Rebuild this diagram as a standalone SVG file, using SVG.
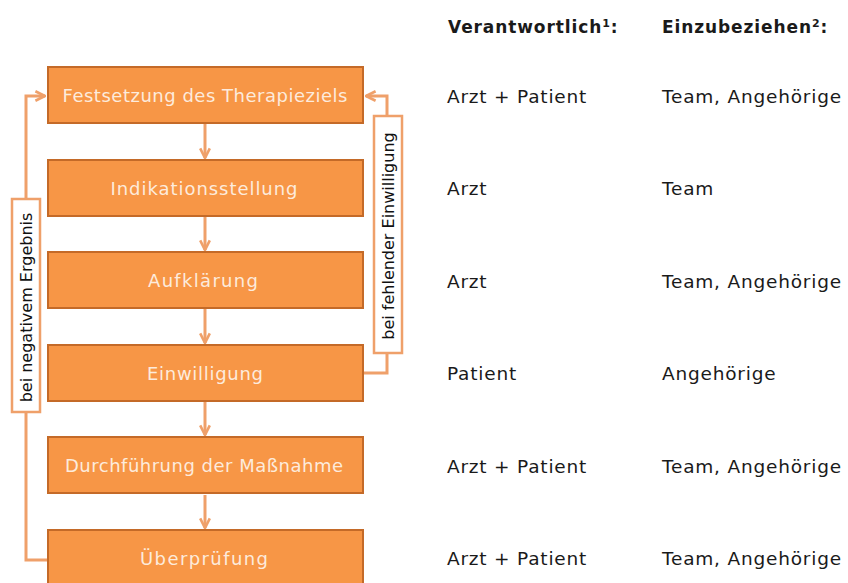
<svg xmlns="http://www.w3.org/2000/svg" width="848" height="583" viewBox="0 0 848 583">
<defs>
<style>
.box{fill:#F79646;stroke:#C46A28;stroke-width:2}
.bt{font-family:"DejaVu Sans",sans-serif;font-size:18px;fill:#FDEBDC;text-anchor:middle}
.con{fill:none;stroke:#EFA06A;stroke-width:3}
.lbl{fill:#FFFFFF;stroke:#EFA06A;stroke-width:2.5}
.lt{font-family:"DejaVu Sans",sans-serif;font-size:16px;fill:#111;text-anchor:middle}
.ct{font-family:"DejaVu Sans",sans-serif;font-size:18.5px;letter-spacing:0.8px;fill:#1a1a1a}
.hd{font-family:"DejaVu Sans",sans-serif;font-size:17px;letter-spacing:0.9px;font-weight:bold;fill:#1a1a1a}
</style>
<marker id="ah" viewBox="0 0 10 10" refX="9" refY="5" markerWidth="4" markerHeight="4" orient="auto" markerUnits="strokeWidth">
<path d="M1,1 L9,5 L1,9" fill="none" stroke="#EFA06A" stroke-width="2.2"/>
</marker>
</defs>
<rect width="848" height="583" fill="#FFFFFF"/>
<g id="connectors">
<path class="con" d="M205,124 V158" marker-end="url(#ah)"/>
<path class="con" d="M205,217 V250" marker-end="url(#ah)"/>
<path class="con" d="M205,309 V343" marker-end="url(#ah)"/>
<path class="con" d="M205,402 V435" marker-end="url(#ah)"/>
<path class="con" d="M205,495 V528" marker-end="url(#ah)"/>
<path class="con" d="M47,560 H26 V96 H45" marker-end="url(#ah)"/>
<path class="con" d="M364,373 H387 V96 H366" marker-end="url(#ah)"/>
</g>
<g id="n1"><rect class="box" x="48" y="67" width="315" height="56"/><text class="bt" x="205" y="102" textLength="285" lengthAdjust="spacing">Festsetzung  des Therapieziels</text></g>
<g id="n2"><rect class="box" x="48" y="160" width="315" height="56"/><text class="bt" x="204" y="195" textLength="187" lengthAdjust="spacing">Indikationsstellung</text></g>
<g id="n3"><rect class="box" x="48" y="252" width="315" height="56"/><text class="bt" x="203" y="287" textLength="110" lengthAdjust="spacing">Aufklärung</text></g>
<g id="n4"><rect class="box" x="48" y="345" width="315" height="56"/><text class="bt" x="205" y="380" textLength="116" lengthAdjust="spacing">Einwilligung</text></g>
<g id="n5"><rect class="box" x="48" y="437" width="315" height="56"/><text class="bt" x="204" y="472" textLength="278" lengthAdjust="spacing">Durchführung  der Maßnahme</text></g>
<g id="n6"><rect class="box" x="48" y="530" width="315" height="60"/><text class="bt" x="204" y="565" textLength="128" lengthAdjust="spacing">Überprüfung</text></g>
<g id="label-left"><rect class="lbl" x="12" y="199" width="28" height="213"/><text class="lt" transform="translate(32,307.5) rotate(-90)">bei negativem Ergebnis</text></g>
<g id="label-right"><rect class="lbl" x="374" y="116" width="28" height="237"/><text class="lt" transform="translate(394,236) rotate(-90)">bei fehlender Einwilligung</text></g>
<g id="table">
<text class="hd" x="448" y="33">Verantwortlich<tspan font-size="11" dy="-6">1</tspan><tspan dy="6">:</tspan></text>
<text class="hd" x="662" y="33">Einzubeziehen<tspan font-size="11" dy="-6">2</tspan><tspan dy="6">:</tspan></text>
<text class="ct" x="447" y="103">Arzt + Patient</text><text class="ct" x="662" y="103">Team, Angehörige</text>
<text class="ct" x="447" y="195">Arzt</text><text class="ct" x="662" y="195">Team</text>
<text class="ct" x="447" y="288">Arzt</text><text class="ct" x="662" y="288">Team, Angehörige</text>
<text class="ct" x="447" y="380">Patient</text><text class="ct" x="662" y="380">Angehörige</text>
<text class="ct" x="447" y="473">Arzt + Patient</text><text class="ct" x="662" y="473">Team, Angehörige</text>
<text class="ct" x="447" y="565">Arzt + Patient</text><text class="ct" x="662" y="565">Team, Angehörige</text>
</g>
</svg>
